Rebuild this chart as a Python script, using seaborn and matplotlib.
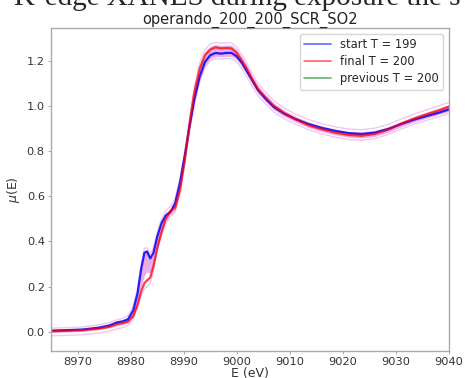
import numpy as np
import pandas as pd
import matplotlib
matplotlib.use("Agg")
import matplotlib.pyplot as plt
import seaborn as sns

# energy grid (eV)
energy = [8965, 8968, 8971, 8974, 8976, 8977.5, 8978.5, 8979.5, 8980.5, 8981.3,
          8982, 8982.6, 8983.1, 8983.7, 8984.3, 8985, 8985.8, 8986.6, 8987.5, 8988.4,
          8989.3, 8990.2, 8991.1, 8992, 8993, 8994, 8995, 8996, 8997, 8998,
          8999, 9000, 9001, 9002, 9003, 9004, 9005.5, 9007, 9009, 9011,
          9013.5, 9016, 9018.5, 9021, 9023.5, 9026, 9028.5, 9031, 9033.5, 9036,
          9038, 9040]

# start spectrum (T = 199)
mu_start = [0.005, 0.007, 0.010, 0.018, 0.028, 0.042, 0.046, 0.055, 0.095, 0.17,
            0.28, 0.35, 0.355, 0.325, 0.35, 0.42, 0.48, 0.515, 0.53, 0.57,
            0.66, 0.78, 0.91, 1.03, 1.13, 1.195, 1.225, 1.235, 1.232, 1.235,
            1.235, 1.22, 1.19, 1.15, 1.11, 1.07, 1.03, 0.995, 0.965, 0.943,
            0.92, 0.903, 0.89, 0.88, 0.876, 0.882, 0.898, 0.92, 0.94, 0.957,
            0.97, 0.985]

# final spectrum (T = 200)
mu_final = [0.002, 0.004, 0.007, 0.014, 0.022, 0.034, 0.038, 0.045, 0.07, 0.12,
            0.18, 0.215, 0.228, 0.24, 0.29, 0.37, 0.44, 0.50, 0.535, 0.55,
            0.63, 0.76, 0.92, 1.06, 1.165, 1.225, 1.25, 1.26, 1.255, 1.257,
            1.255, 1.235, 1.2, 1.16, 1.115, 1.075, 1.035, 1.0, 0.968, 0.942,
            0.915, 0.897, 0.882, 0.872, 0.868, 0.876, 0.895, 0.922, 0.945, 0.965,
            0.98, 0.997]

# spread of the intermediate spectra
band_lo = [-0.003, -0.001, 0.002, 0.009, 0.017, 0.028, 0.032, 0.04, 0.065, 0.115,
           0.2, 0.25, 0.265, 0.26, 0.29, 0.365, 0.435, 0.49, 0.52, 0.54,
           0.62, 0.75, 0.895, 1.015, 1.115, 1.18, 1.21, 1.22, 1.218, 1.22,
           1.22, 1.205, 1.175, 1.135, 1.095, 1.057, 1.018, 0.983, 0.953, 0.93,
           0.905, 0.887, 0.872, 0.862, 0.858, 0.865, 0.884, 0.908, 0.93, 0.948,
           0.962, 0.977]
band_hi = [0.01, 0.012, 0.015, 0.024, 0.034, 0.048, 0.053, 0.063, 0.105, 0.18,
           0.29, 0.36, 0.365, 0.335, 0.36, 0.43, 0.49, 0.525, 0.545, 0.58,
           0.67, 0.79, 0.935, 1.075, 1.18, 1.24, 1.265, 1.272, 1.268, 1.27,
           1.27, 1.25, 1.215, 1.175, 1.13, 1.09, 1.05, 1.013, 0.98, 0.955,
           0.93, 0.912, 0.898, 0.888, 0.885, 0.892, 0.908, 0.932, 0.955, 0.975,
           0.99, 1.007]
edge_lo = [-0.018, -0.016, -0.013, -0.006, 0.003, 0.013, 0.018, 0.028, 0.055, 0.105,
           0.16, 0.19, 0.2, 0.215, 0.27, 0.355, 0.425, 0.48, 0.51, 0.53,
           0.61, 0.74, 0.885, 1.005, 1.105, 1.17, 1.2, 1.21, 1.208, 1.21,
           1.21, 1.195, 1.165, 1.125, 1.085, 1.047, 1.008, 0.973, 0.943, 0.92,
           0.895, 0.877, 0.862, 0.852, 0.848, 0.855, 0.874, 0.898, 0.92, 0.938,
           0.952, 0.967]
edge_hi = [0.016, 0.018, 0.021, 0.03, 0.04, 0.054, 0.059, 0.07, 0.115, 0.19,
           0.3, 0.37, 0.372, 0.345, 0.37, 0.44, 0.5, 0.535, 0.555, 0.59,
           0.68, 0.8, 0.945, 1.085, 1.19, 1.25, 1.275, 1.282, 1.278, 1.28,
           1.28, 1.26, 1.225, 1.185, 1.14, 1.1, 1.06, 1.023, 0.99, 0.965,
           0.94, 0.922, 0.908, 0.898, 0.895, 0.902, 0.918, 0.942, 0.965, 0.985,
           1.0, 1.017]

sns.set_style("white")
plt.rcParams['font.family'] = ['DejaVu Sans']

fig = plt.figure(figsize=(4.65, 3.78), dpi=100)
ax = fig.add_axes([0.1097, 0.0722, 0.856, 0.854])

# shaded spread + thin outline
ax.fill_between(energy, band_lo, band_hi, color='m', alpha=0.32, lw=0)
ax.plot(energy, edge_lo, color='m', alpha=0.22, lw=1)
ax.plot(energy, edge_hi, color='m', alpha=0.22, lw=1)

sns.lineplot(x=energy, y=mu_start, color='blue', alpha=0.85, lw=1.6, ax=ax, label='start T = 199')
sns.lineplot(x=energy, y=mu_final, color='red', alpha=0.75, lw=1.6, ax=ax, label='final T = 200')
ax.plot([], [], color='green', alpha=0.6, lw=1.6, label='previous T = 200')

ax.set_xlim(8965, 9040)
ax.set_ylim(-0.084, 1.346)
ax.set_xticks(np.arange(8970, 9041, 10))
ax.set_yticks(np.arange(0, 1.21, 0.2))
ax.tick_params(axis='both', labelsize=8.2, length=2.5, width=0.6, color='#999999',
               labelcolor='#333333', bottom=True, left=True, pad=2)
for s in ax.spines.values():
    s.set_color('#aaaaaa')
    s.set_linewidth(1.0)

ax.set_xlabel('E (eV)', fontsize=9, color='#333333', labelpad=0)
ax.set_ylabel(r'$\mu$(E)', fontsize=9, color='#333333', labelpad=3)
ax.set_title('operando_200_200_SCR_SO2', fontsize=10.5, color='#222222', pad=3)

leg = ax.legend(loc='upper right', fontsize=8.3, frameon=True, handlelength=2.3,
                borderaxespad=0.5, labelspacing=0.35)
for line in leg.get_lines():
    line.set_linewidth(1.2)
    line.set_alpha(0.6)

fig.text(0.03, 0.987, 'K-edge XANES during exposure the s', fontsize=21,
         family='Liberation Serif', va='baseline', ha='left')

fig.savefig('out.png', dpi=100)
